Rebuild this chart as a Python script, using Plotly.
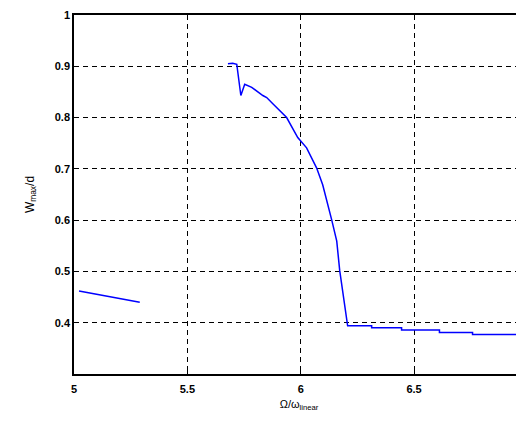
import plotly.graph_objects as go

# Branch 1 (low frequency)
x1 = [5.022, 5.06, 5.10, 5.14, 5.18, 5.22, 5.26, 5.29]
y1 = [0.462, 0.459, 0.456, 0.453, 0.450, 0.446, 0.443, 0.440]

# Branch 2 (resonant branch and drop)
x2 = [5.679, 5.700, 5.718, 5.736, 5.753, 5.784, 5.833, 5.850, 5.877, 5.938,
      5.987, 6.026, 6.070, 6.097, 6.137, 6.159, 6.172, 6.189, 6.207,
      6.313, 6.313, 6.445, 6.445, 6.612, 6.612, 6.758, 6.758, 7.0]
y2 = [0.905, 0.906, 0.904, 0.843, 0.865, 0.859, 0.843, 0.839, 0.827, 0.800,
      0.761, 0.741, 0.702, 0.669, 0.600, 0.559, 0.502, 0.447, 0.394,
      0.394, 0.390, 0.390, 0.386, 0.386, 0.381, 0.381, 0.377, 0.377]

x_ticks = [5, 5.5, 6, 6.5]
x_tick_text = ["5", "5.5", "6", "6.5"]
y_ticks = [0.4, 0.5, 0.6, 0.7, 0.8, 0.9, 1.0]
y_tick_text = ["0.4", "0.5", "0.6", "0.7", "0.8", "0.9", "1"]

line_style = dict(color="#0000ff", width=1.5)
fig = go.Figure()
fig.add_trace(go.Scatter(x=x1, y=y1, mode="lines", line=line_style, showlegend=False))
fig.add_trace(go.Scatter(x=x2, y=y2, mode="lines", line=line_style, showlegend=False))

tickfont = dict(family="Liberation Sans", size=11, color="black", weight="bold")

fig.update_layout(
    width=524, height=423,
    margin=dict(l=66, r=8, t=7, b=57),
    paper_bgcolor="white", plot_bgcolor="white",
    xaxis=dict(
        range=[5, 6.985], tickvals=x_ticks, ticktext=x_tick_text,
        showline=True, linecolor="black", linewidth=1.5, mirror=True,
        ticks="inside", ticklen=4, tickcolor="black", ticklabelstandoff=4,
        showgrid=True, gridcolor="black", gridwidth=1.3, griddash="5px,4px",
        zeroline=False, tickfont=tickfont, automargin=False,
        title=dict(text="Ω/ω<sub>linear</sub>", font=dict(family="Liberation Sans", size=11, color="black"), standoff=6),
    ),
    yaxis=dict(
        range=[0.3, 1.0], tickvals=y_ticks, ticktext=y_tick_text,
        showline=True, linecolor="black", linewidth=1.5, mirror=False,
        ticks="inside", ticklen=4, tickcolor="black",
        showgrid=True, gridcolor="black", gridwidth=1.3, griddash="5px,4px",
        zeroline=False, tickfont=tickfont, automargin=False,
        title=dict(text="W<sub>max</sub>/d", font=dict(family="Liberation Sans", size=12, color="black"), standoff=18),
    ),
)

fig.add_annotation(x=1.009, y=0, xref="paper", yref="paper", text="7",
                   showarrow=False, xanchor="center", yanchor="top", yshift=-8,
                   font=tickfont)

fig.write_html("out.html")
